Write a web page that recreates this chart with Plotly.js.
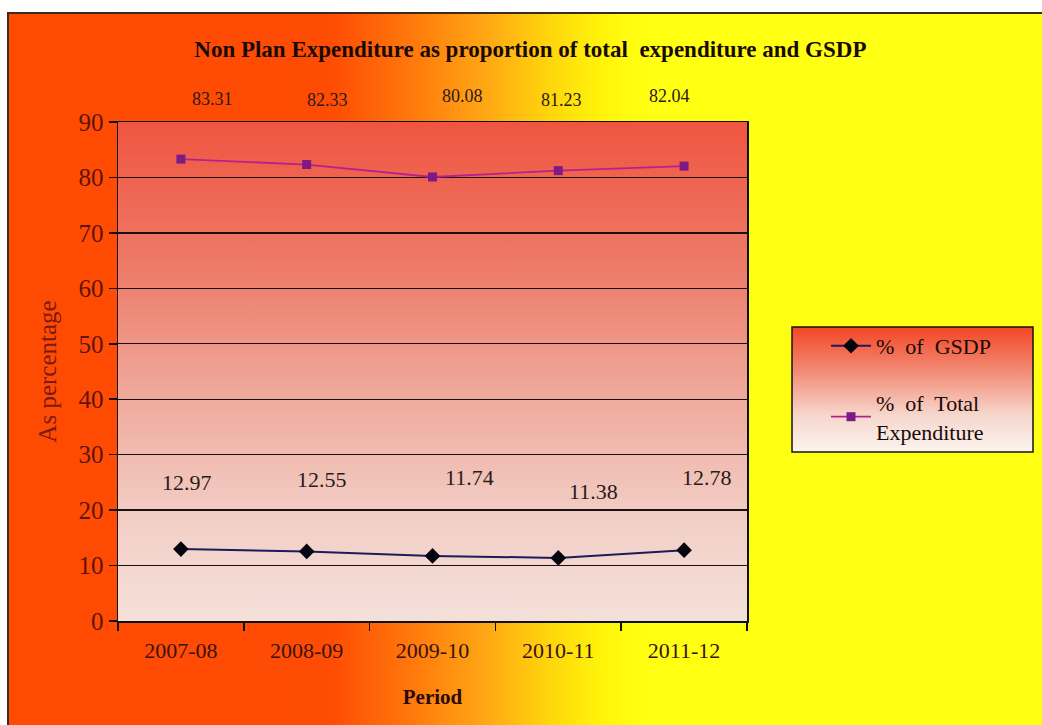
<!DOCTYPE html>
<html>
<head>
<meta charset="utf-8">
<script src="https://cdn.plot.ly/plotly-3.0.1.min.js"></script>
<style>
  html, body { margin: 0; padding: 0; background: #ffffff; }
  #wrap { position: relative; width: 1042px; height: 725px; overflow: hidden; }
  #frame {
    position: absolute; left: 7px; top: 12px; width: 1040px; height: 720px;
    border-left: 2px solid #3a2a20; border-top: 2px solid #3a2a20;
    background: linear-gradient(to right, #ff4a02 0%, #ff4c04 31%, #ff7a0c 39%, #ffa814 46%, #ffd60c 52%, #fff40a 57%, #ffff12 61%, #ffff14 100%);
  }
  #chart { position: absolute; left: 0; top: 0; width: 1042px; height: 725px; }
</style>
</head>
<body>
<div id="wrap">
  <div id="frame"></div>
  <div id="chart"></div>
</div>
<script>
// Periods on the x axis
const periods = ['2007-08', '2008-09', '2009-10', '2010-11', '2011-12'];
// Non plan expenditure as % of GSDP
const gsdpShare = [12.97, 12.55, 11.74, 11.38, 12.78];
// Non plan expenditure as % of total expenditure
const totalShare = [83.31, 82.33, 80.08, 81.23, 82.04];
// Y axis ticks
const yTicks = [0, 10, 20, 30, 40, 50, 60, 70, 80, 90];

// Pixel offsets of each value label from its point
const gsdpLabelShift = [[6, 67], [15, 72], [37, 78], [35, 66], [23, 73]];
const totalLabelShift = [[32, 60], [21, 65], [30, 81], [3, 71], [-15, 70]];

const serif = 'Liberation Serif, Times New Roman, serif';

function svgGradient(stops, w, h) {
  const s = stops.map(([o, c]) => `<stop offset="${o}" stop-color="${c}"/>`).join('');
  const svg = `<svg xmlns="http://www.w3.org/2000/svg" width="${w}" height="${h}" preserveAspectRatio="none">` +
    `<defs><linearGradient id="g" x1="0" y1="0" x2="0" y2="1">${s}</linearGradient></defs>` +
    `<rect width="${w}" height="${h}" fill="url(#g)"/></svg>`;
  return 'data:image/svg+xml;base64,' + btoa(svg);
}

const plotBg = svgGradient([[0, '#ef5540'], [0.3, '#ee7c6a'], [0.55, '#efaa9c'], [0.8, '#f2cfc6'], [1, '#f4e0da']], 100, 100);
const legendBg = svgGradient([[0, '#f24624'], [0.35, '#f28a74'], [0.7, '#f6d6cc'], [1, '#fbf4ee']], 100, 100);

const traces = [
  {
    x: periods, y: gsdpShare, name: '%  of  GSDP', type: 'scatter', mode: 'lines+markers',
    legendgroup: 'gsdp',
    line: { color: '#1c1c5a', width: 2 },
    marker: { symbol: 'diamond', size: 12, color: '#050510' }
  },
  {
    x: periods, y: totalShare, name: '%  of  Total<br>Expenditure', type: 'scatter', mode: 'lines+markers',
    legendgroup: 'total',
    line: { color: '#b8208e', width: 1.8 },
    marker: { symbol: 'square', size: 9, color: '#7e1a86' }
  }
];

const annotations = [];
gsdpShare.forEach((v, i) => annotations.push({
  x: periods[i], y: v, text: v.toFixed(2), showarrow: false,
  xshift: gsdpLabelShift[i][0], yshift: gsdpLabelShift[i][1],
  font: { family: serif, size: 22, color: '#2a1a18' }
}));
totalShare.forEach((v, i) => annotations.push({
  x: periods[i], y: v, text: v.toFixed(2), showarrow: false,
  xshift: totalLabelShift[i][0], yshift: totalLabelShift[i][1],
  font: { family: serif, size: 18, color: '#2a1a18' }
}));

// Legend box geometry in paper units (plot area spans 118..747 x 122..621 px)
const px = x => (x - 118) / 629;
const py = y => (621 - y) / 499;

const layout = {
  width: 1042, height: 725,
  margin: { l: 118, r: 295, t: 122, b: 104, autoexpand: false },
  paper_bgcolor: 'rgba(0,0,0,0)',
  plot_bgcolor: 'rgba(0,0,0,0)',
  font: { family: serif },
  title: {
    text: '<b>Non Plan Expenditure as proportion of total  expenditure and GSDP</b>',
    font: { family: serif, size: 23, color: '#1a0a05' },
    x: 0.509, xref: 'container', xanchor: 'center',
    y: 1 - 49 / 725, yref: 'container', yanchor: 'middle'
  },
  xaxis: {
    type: 'category', range: [-0.5, 4.5], autorange: false,
    tickson: 'boundaries', ticks: 'outside', ticklen: 8, tickwidth: 1.5, tickcolor: '#111',
    showgrid: false, showline: true, linecolor: '#111', linewidth: 1.5, mirror: true,
    tickfont: { family: serif, size: 22, color: '#3a1210' }, ticklabelstandoff: 9,
    title: { text: '<b>Period</b>', font: { family: serif, size: 21, color: '#2a0a05' }, standoff: 27 },
    automargin: false, fixedrange: true
  },
  yaxis: {
    range: [0, 90], autorange: false, tickvals: yTicks, ticks: 'outside', ticklen: 8, tickwidth: 1.5, tickcolor: '#111',
    showgrid: true, gridcolor: '#1a1010', gridwidth: 1.4, zeroline: false,
    showline: true, linecolor: '#111', linewidth: 1.5, mirror: true,
    tickfont: { family: serif, size: 25, color: '#5e140c' },
    title: { text: 'As percentage', font: { family: serif, size: 25, color: '#7a1a10' }, standoff: 15 },
    automargin: false, fixedrange: true
  },
  showlegend: true,
  legend: {
    x: px(826), y: py(325), xanchor: 'left', yanchor: 'top',
    bgcolor: 'rgba(0,0,0,0)', borderwidth: 0,
    font: { family: serif, size: 22, color: '#1a0a08' },
    tracegroupgap: 25, itemwidth: 40
  },
  images: [
    { source: plotBg, xref: 'paper', yref: 'paper', x: 0, y: 1, sizex: 1, sizey: 1,
      sizing: 'stretch', xanchor: 'left', yanchor: 'top', layer: 'below' },
    { source: legendBg, xref: 'paper', yref: 'paper', x: px(792), y: py(327),
      sizex: px(1033) - px(792), sizey: py(327) - py(452),
      sizing: 'stretch', xanchor: 'left', yanchor: 'top', layer: 'below' }
  ],
  shapes: [
    { type: 'rect', xref: 'paper', yref: 'paper', x0: px(792), x1: px(1033), y0: py(452), y1: py(327),
      line: { color: '#1a1010', width: 1.5 }, fillcolor: 'rgba(0,0,0,0)', layer: 'above' }
  ],
  annotations: annotations
};

Plotly.newPlot('chart', traces, layout, { displayModeBar: false, staticPlot: true });
</script>
</body>
</html>
